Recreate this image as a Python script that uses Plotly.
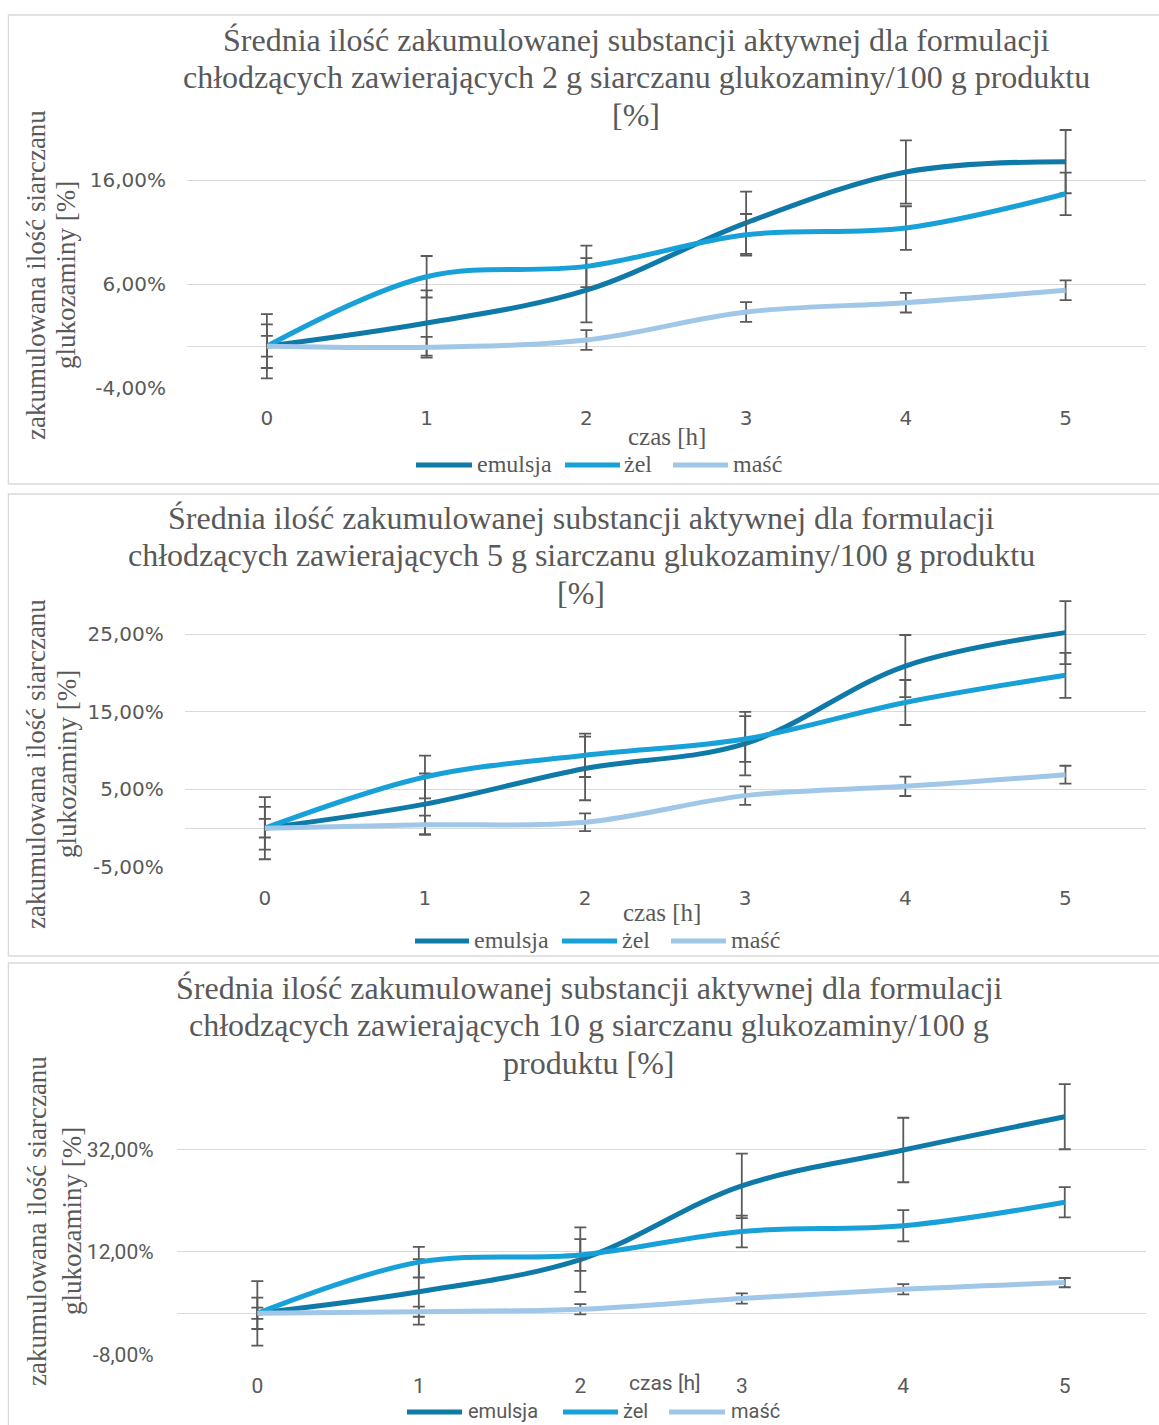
import plotly.graph_objects as go

# ---------------- data ----------------
hours = [0, 1, 2, 3, 4, 5]
hour_labels = ["0", "1", "2", "3", "4", "5"]
series_names = ["emulsja", "żel", "maść"]

# 2 g / 100 g
emulsja_2g = [0.0, 2.24, 5.4, 11.9, 16.8, 17.8]
zel_2g = [0.0, 6.7, 7.7, 10.75, 11.4, 14.7]
masc_2g = [0.0, -0.1, 0.6, 3.3, 4.2, 5.4]
emulsja_2g_err = [3.1, 3.15, 3.1, 3.0, 3.05, 3.05]
zel_2g_err = [2.1, 2.0, 2.0, 2.0, 2.1, 2.05]
masc_2g_err = [1.0, 1.0, 0.95, 0.95, 0.95, 0.95]

# 5 g / 100 g
emulsja_5g = [0.0, 3.1, 7.7, 10.9, 20.9, 25.2]
zel_5g = [0.0, 6.6, 9.4, 11.5, 16.2, 19.7]
masc_5g = [0.0, 0.43, 0.77, 4.2, 5.4, 6.9]
emulsja_5g_err = [4.0, 3.95, 4.1, 4.1, 4.0, 4.05]
zel_5g_err = [2.75, 2.75, 2.8, 2.95, 2.9, 2.9]
masc_5g_err = [1.2, 1.2, 1.15, 1.2, 1.25, 1.15]

# 10 g / 100 g
emulsja_10g = [0.0, 4.2, 10.5, 24.9, 31.9, 38.4]
zel_10g = [0.0, 10.0, 11.4, 16.0, 17.1, 21.7]
masc_10g = [0.0, 0.33, 0.8, 2.9, 4.7, 6.0]
emulsja_10g_err = [6.3, 6.4, 6.3, 6.3, 6.3, 6.35]
zel_10g_err = [3.06, 3.0, 3.1, 3.1, 3.05, 2.96]
masc_10g_err = [1.1, 1.0, 1.0, 1.0, 1.0, 0.9]

ticks_2g = [-4, 6, 16]
ticks_5g = [-5, 5, 15, 25]
ticks_10g = [-8, 12, 32]

title_2g = ["Średnia ilość zakumulowanej substancji aktywnej dla formulacji",
            "chłodzących zawierających 2 g siarczanu glukozaminy/100 g produktu",
            "[%]"]
title_5g = ["Średnia ilość zakumulowanej substancji aktywnej dla formulacji",
            "chłodzących zawierających 5 g siarczanu glukozaminy/100 g produktu",
            "[%]"]
title_10g = ["Średnia ilość zakumulowanej substancji aktywnej dla formulacji",
             "chłodzących zawierających 10 g siarczanu glukozaminy/100 g",
             "produktu [%]"]
ytitle = ["zakumulowana ilość siarczanu", "glukozaminy [%]"]
xtitle = "czas [h]"

# ---------------- styling / layout ----------------
W, H = 1159, 1425
colors = ["#0f7aa8", "#18a0d8", "#a0c7e8"]
err_color = "#5a5a5a"
text_color = "#595959"
grid_color = "#d9d9d9"
SERIF = "Liberation Serif"
SANS = "Roboto"


def fx(p):
    return p / W


def fy(p):
    return 1 - p / H


panels = [
    dict(data=[(emulsja_2g, emulsja_2g_err), (zel_2g, zel_2g_err), (masc_2g, masc_2g_err)],
         ticks=ticks_2g, title=title_2g,
         x0=187.0, x1=1145.5, ybot=387.7, ppu=10.37, ymin=-4, ymax=21.5,
         title_x=636, title_y=[40, 77, 115], tick_font=dict(family="DejaVu Sans", size=20),
         xstand=16, ystand=20, yt_x=[36, 66], yt_y=275,
         xt_x=667, xt_y=437, leg_y=465, leg_font=dict(family=SERIF, size=24),
         leg_pos=[(416, 472, 475), (565, 620, 622), (673, 728, 731)],
         box=(8.4, 15, 484), bottom_font=dict(family=SERIF, size=25)),
    dict(data=[(emulsja_5g, emulsja_5g_err), (zel_5g, zel_5g_err), (masc_5g, masc_5g_err)],
         ticks=ticks_5g, title=title_5g,
         x0=184.8, x1=1145.5, ybot=867.0, ppu=7.76, ymin=-5, ymax=30,
         title_x=581, title_y=[518, 555, 593], tick_font=dict(family="DejaVu Sans", size=20),
         xstand=17, ystand=20, yt_x=[36, 67], yt_y=764,
         xt_x=662, xt_y=912, leg_y=941, leg_font=dict(family=SERIF, size=24),
         leg_pos=[(415, 469, 472), (562, 617, 620), (671, 726, 729)],
         box=(8.4, 494, 956), bottom_font=dict(family=SERIF, size=25)),
    dict(data=[(emulsja_10g, emulsja_10g_err), (zel_10g, zel_10g_err), (masc_10g, masc_10g_err)],
         ticks=ticks_10g, title=title_10g,
         x0=176.6, x1=1145.5, ybot=1354.3, ppu=5.12, ymin=-8, ymax=45.5,
         title_x=589, title_y=[988, 1025, 1063], tick_font=dict(family=SANS, size=21),
         xstand=17, ystand=22, yt_x=[37, 72], yt_y=1221,
         xt_x=665, xt_y=1383, leg_y=1412, leg_font=dict(family=SANS, size=20),
         leg_pos=[(407, 462, 466), (563, 618, 621), (669, 725, 729)],
         box=(8.4, 963, 1440), bottom_font=dict(family=SANS, size=21)),
]

fig = go.Figure()
annotations = []
shapes = []
layout = {}

for i, p in enumerate(panels, start=1):
    sfx = "" if i == 1 else str(i)
    xa, ya = "x" + sfx, "y" + sfx
    for (vals, err), name, col in zip(p["data"], series_names, colors):
        fig.add_trace(go.Scatter(
            x=hours, y=vals, name=name, mode="lines",
            line=dict(color=col, width=5, shape="spline", smoothing=1.0),
            error_y=dict(type="data", array=err, visible=True, color=err_color,
                         thickness=1.8, width=6),
            xaxis=xa, yaxis=ya, showlegend=False, cliponaxis=False,
        ))
    ytop = p["ybot"] - (p["ymax"] - p["ymin"]) * p["ppu"]
    layout["xaxis" + sfx] = dict(
        domain=[fx(p["x0"]), fx(p["x1"])], range=[-0.5, 5.5], anchor=ya,
        tickvals=hours, ticktext=hour_labels, showgrid=False, zeroline=False,
        showline=False, ticks="", tickfont=dict(color=text_color, **p["tick_font"]),
        ticklabelstandoff=p["xstand"], fixedrange=True,
    )
    layout["yaxis" + sfx] = dict(
        domain=[fy(p["ybot"]), fy(ytop)], range=[p["ymin"], p["ymax"]], anchor=xa,
        tickvals=p["ticks"],
        ticktext=[f"{v:.2f}".replace(".", ",") + "%" for v in p["ticks"]],
        showgrid=True, gridcolor=grid_color, gridwidth=1.4,
        zeroline=True, zerolinecolor=grid_color, zerolinewidth=1.4,
        showline=False, ticks="", tickfont=dict(color=text_color, **p["tick_font"]),
        ticklabelstandoff=p["ystand"], fixedrange=True,
    )
    # chart title (three lines)
    for line, ty in zip(p["title"], p["title_y"]):
        annotations.append(dict(
            text=line, x=fx(p["title_x"]), y=fy(ty), xref="paper", yref="paper",
            xanchor="center", yanchor="middle", showarrow=False,
            font=dict(family=SERIF, size=32, color=text_color)))
    # y-axis title (two lines)
    for line, tx in zip(ytitle, p["yt_x"]):
        annotations.append(dict(
            text=line, x=fx(tx), y=fy(p["yt_y"]), xref="paper", yref="paper",
            xanchor="center", yanchor="middle", showarrow=False, textangle=-90,
            font=dict(family=SERIF, size=27, color=text_color)))
    # x-axis title
    annotations.append(dict(
        text=xtitle, x=fx(p["xt_x"]), y=fy(p["xt_y"]), xref="paper", yref="paper",
        xanchor="center", yanchor="middle", showarrow=False,
        font=dict(color=text_color, **p["bottom_font"])))
    # legend (line sample + label)
    for (lx0, lx1, tx), name, col in zip(p["leg_pos"], series_names, colors):
        shapes.append(dict(type="line", xref="paper", yref="paper",
                           x0=fx(lx0), x1=fx(lx1), y0=fy(p["leg_y"]), y1=fy(p["leg_y"]),
                           line=dict(color=col, width=5)))
        annotations.append(dict(
            text=name, x=fx(tx), y=fy(p["leg_y"] - 1), xref="paper", yref="paper",
            xanchor="left", yanchor="middle", showarrow=False,
            font=dict(color=text_color, **p["leg_font"])))
    # chart border
    bx, by0, by1 = p["box"]
    shapes.append(dict(type="rect", xref="paper", yref="paper",
                       x0=fx(bx), x1=1.02, y0=fy(by1), y1=fy(by0),
                       line=dict(color=grid_color, width=1.3), layer="below"))

fig.update_layout(
    width=W, height=H, margin=dict(l=0, r=0, t=0, b=0, autoexpand=False),
    paper_bgcolor="white", plot_bgcolor="white", showlegend=False,
    annotations=annotations, shapes=shapes, **layout,
)

fig.write_html("out.html")
